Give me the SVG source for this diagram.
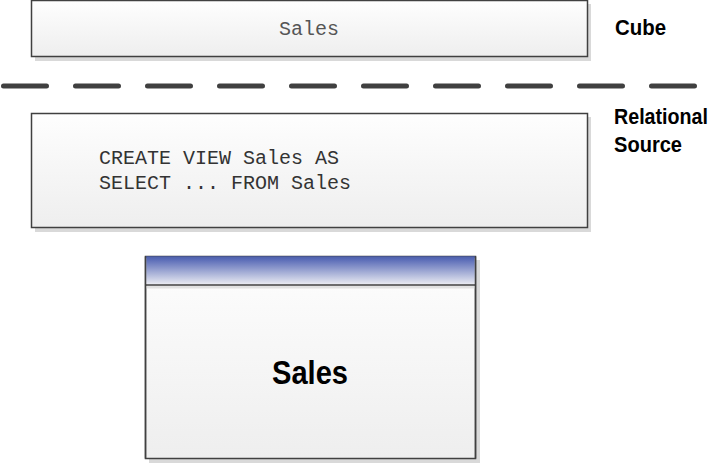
<svg xmlns="http://www.w3.org/2000/svg" width="716" height="463" viewBox="0 0 716 463">
  <defs>
    <linearGradient id="boxFill" x1="0" y1="0" x2="0" y2="1">
      <stop offset="0" stop-color="#fefefe"/>
      <stop offset="1" stop-color="#eeeeee"/>
    </linearGradient>
    <linearGradient id="hdrFill" x1="0" y1="0" x2="0" y2="1">
      <stop offset="0" stop-color="#4d60b2"/>
      <stop offset="1" stop-color="#ecedf3"/>
    </linearGradient>
  </defs>
  <style>
    .shadow { fill: #d9d9d9; }
    .box { fill: url(#boxFill); stroke: #404040; stroke-width: 1.5; }
    .mono { font-family: "Liberation Mono", "Courier New", monospace; font-size: 20px; }
    .lbl { font-family: "Liberation Sans", Arial, sans-serif; font-weight: bold; font-size: 22px; fill: #000; }
  </style>

  <g id="cube-sales">
    <rect class="shadow" x="35" y="4" width="556" height="57"/>
    <rect class="box" x="31.5" y="0.5" width="556" height="56"/>
    <text class="mono" x="309" y="35" text-anchor="middle" fill="#555555">Sales</text>
  </g>

  <g id="label-cube">
    <text class="lbl" x="615" y="35" textLength="51" lengthAdjust="spacingAndGlyphs">Cube</text>
  </g>

  <g id="connectors">
    <line x1="3.5" y1="86" x2="694.5" y2="86" stroke="#404040" stroke-width="5" stroke-linecap="round" stroke-dasharray="43 29"/>
  </g>

  <g id="label-relational">
    <text class="lbl" x="614" y="124" font-size="20" textLength="94" lengthAdjust="spacingAndGlyphs">Relational</text>
    <text class="lbl" x="614" y="152" textLength="68" lengthAdjust="spacingAndGlyphs">Source</text>
  </g>

  <g id="view-sql">
    <rect class="shadow" x="35" y="117" width="556" height="115"/>
    <rect class="box" x="31.5" y="113.5" width="556" height="114"/>
    <text class="mono" x="99" y="164" fill="#333333">CREATE VIEW Sales AS</text>
    <text class="mono" x="99" y="189" fill="#333333">SELECT ... FROM Sales</text>
  </g>

  <g id="table-sales">
    <rect class="shadow" x="149" y="260" width="331" height="203"/>
    <rect class="box" x="145.5" y="256.5" width="330" height="202"/>
    <rect x="146.25" y="257.25" width="328.5" height="27.5" fill="url(#hdrFill)"/>
    <line x1="146" y1="257" x2="475" y2="257" stroke="#4a5ca8" stroke-width="1.5"/>
    <rect x="146.25" y="285.5" width="328.5" height="3" fill="#e2e2e2"/>
    <line x1="145.5" y1="285" x2="475.5" y2="285" stroke="#404040" stroke-width="1.5"/>
    <line x1="145.5" y1="256.5" x2="145.5" y2="458.5" stroke="#404040" stroke-width="1.5"/>
    <line x1="475.5" y1="256.5" x2="475.5" y2="458.5" stroke="#404040" stroke-width="1.5"/>
    <text x="272" y="384" font-family="'Liberation Sans', Arial, sans-serif" font-weight="bold" font-size="33" textLength="76" lengthAdjust="spacingAndGlyphs" fill="#000">Sales</text>
  </g>
</svg>
